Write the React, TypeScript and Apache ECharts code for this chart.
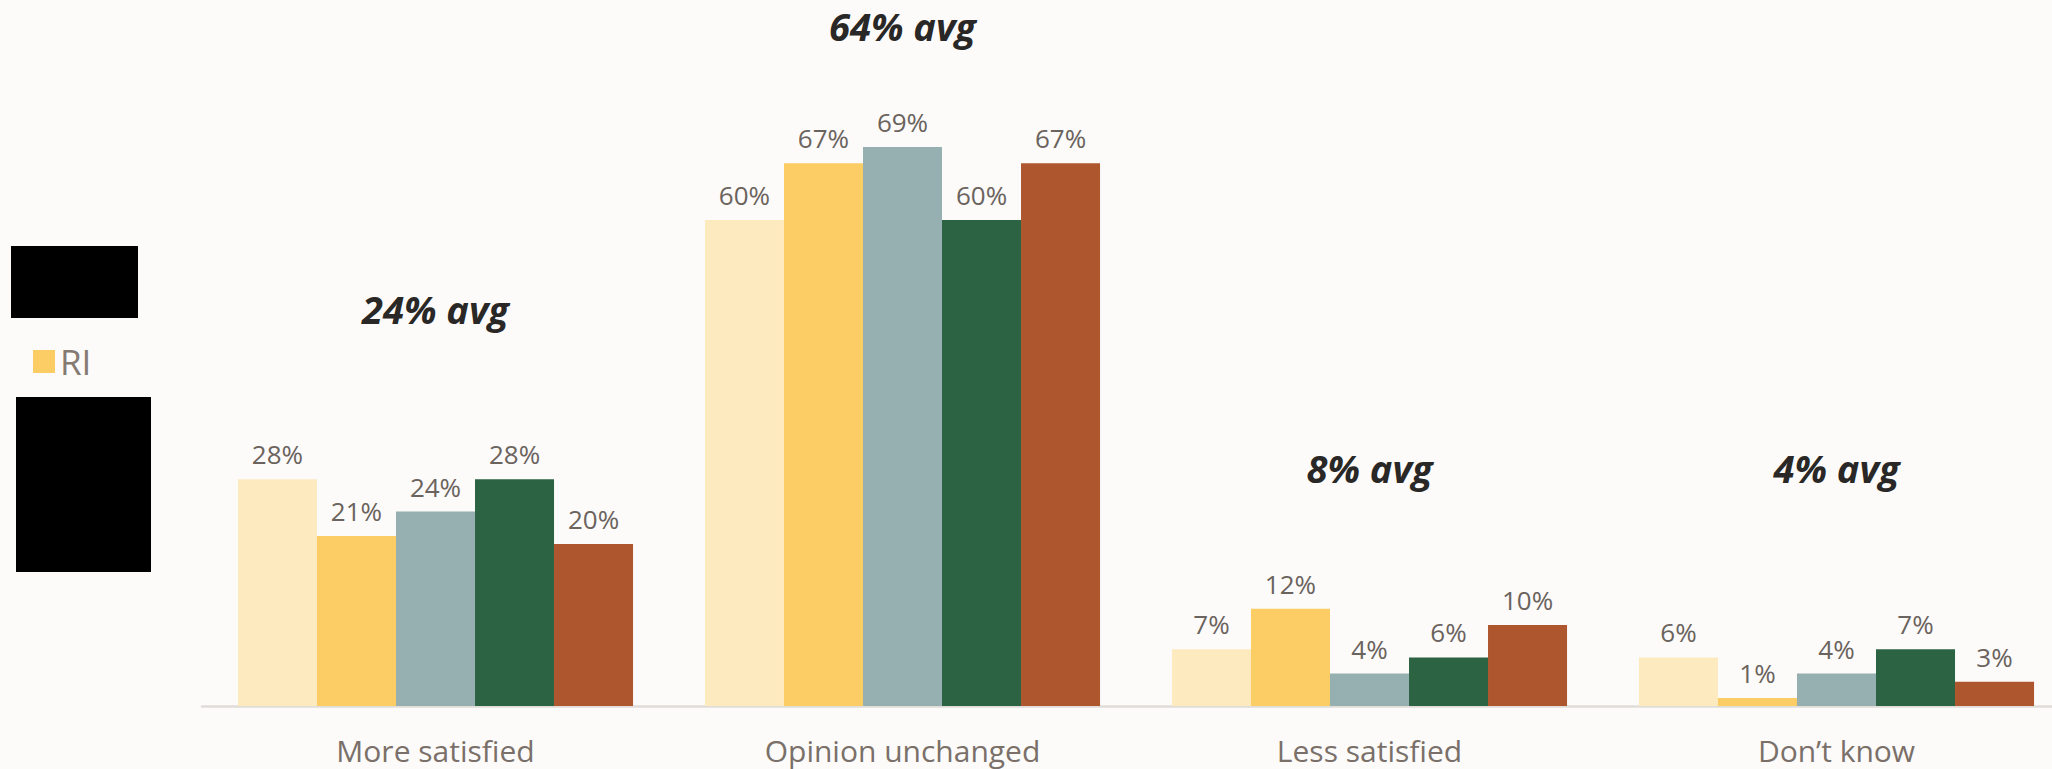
import React, { useEffect, useRef } from "react";
import * as echarts from "echarts";

// Response categories along the x axis
const categories = ["More satisfied", "Opinion unchanged", "Less satisfied", "Don\u2019t know"];

// Share of respondents (%) per segment, in category order
const segment1 = [28, 60, 7, 6];
const riValues = [21, 67, 12, 1];
const segment3 = [24, 69, 4, 4];
const segment4 = [28, 60, 6, 7];
const segment5 = [20, 67, 10, 3];

// Average share per category, printed above each group
const avgValues = [24, 64, 8, 4];

const seriesNames = ["Segment 1", "RI", "Segment 3", "Segment 4", "Segment 5"];
const seriesValues = [segment1, riValues, segment3, segment4, segment5];
const seriesColors = ["#fdeabf", "#fbcd64", "#96afb0", "#2b6343", "#ae562d"];

// Vertical placement (px) of each average caption
const avgLabelY = [309, 26, 468, 468];

export default function App() {
  const ref = useRef<HTMLDivElement>(null);

  useEffect(() => {
    document.body.style.margin = "0";
    const chart = echarts.init(ref.current!, null, { renderer: "svg" });

    chart.setOption({
      animation: false,
      backgroundColor: "#fcfbfa",
      textStyle: { fontFamily: "Open Sans" },
      legend: {
        left: 28,
        top: 339,
        data: ["RI"],
        icon: "rect",
        itemWidth: 22,
        itemHeight: 23,
        selectedMode: false,
        textStyle: {
          fontSize: 35,
          color: "#857a72",
        },
      },
      // the plot runs past the right edge of the canvas
      grid: {
        left: 202,
        width: 1868,
        top: 58,
        bottom: 63,
        outerBoundsMode: "none",
        containLabel: false,
      },
      xAxis: {
        type: "category",
        data: categories,
        axisTick: { show: false },
        axisLine: { lineStyle: { color: "#e0dcd8", width: 2.5 } },
        axisLabel: {
          fontSize: 30,
          lineHeight: 30,
          color: "#7a7069",
          margin: 29,
        },
      },
      yAxis: {
        type: "value",
        min: 0,
        max: 80,
        show: false,
        splitLine: { show: false },
      },
      series: seriesNames.map((name, i) => ({
        name,
        type: "bar",
        data: seriesValues[i],
        barGap: "0%",
        barCategoryGap: "15.4%",
        itemStyle: { color: seriesColors[i] },
        label: {
          show: true,
          position: "top",
          distance: 12,
          formatter: "{c}%",
          fontSize: 26,
          color: "#6b635d",
        },
      })),
    });

    const avgTexts = avgValues.map((v, i) => {
      const x = chart.convertToPixel({ xAxisIndex: 0 }, categories[i]) as number;
      return {
        type: "text",
        x,
        y: avgLabelY[i],
        style: {
          text: `${v}% avg`,
          fontFamily: "Open Sans",
          fontSize: 38,
          fontWeight: "bold",
          fontStyle: "italic",
          fill: "#2a2826",
          textAlign: "center",
          textVerticalAlign: "middle",
        },
      };
    });

    chart.setOption({
      graphic: [
        ...avgTexts,
        { type: "rect", shape: { x: 11, y: 246, width: 127, height: 72 }, style: { fill: "#000" } },
        { type: "rect", shape: { x: 16, y: 397, width: 135, height: 175 }, style: { fill: "#000" } },
      ],
    });

    return () => chart.dispose();
  }, []);

  return <div ref={ref} style={{ width: 2052, height: 769 }} />;
}
